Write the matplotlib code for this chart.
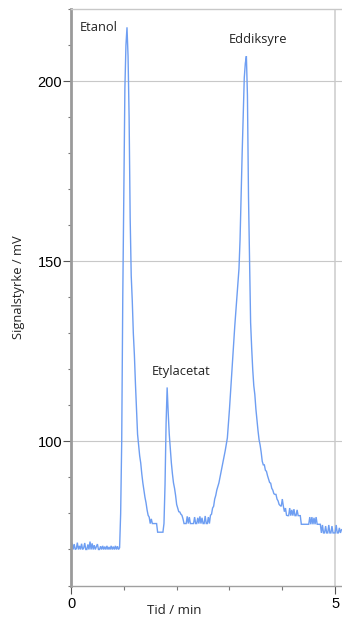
import numpy as np
import matplotlib
matplotlib.use("Agg")
import matplotlib.pyplot as plt
from matplotlib.ticker import FixedLocator

# Detector signal (mV), sampled every 0.02 min
SAMPLE_INTERVAL_MIN = 0.02

baseline_mv = [
    70.0, 71.8, 70.0, 71.5, 70.0, 70.2, 71.9, 70.0, 71.0, 70.0,
    71.6, 70.0, 70.4, 71.8, 70.0, 70.0, 71.4, 70.0, 72.2, 70.0,
    71.7, 70.0, 71.2, 70.0, 70.8, 71.5, 70.0, 70.0, 70.9, 70.0,
    71.0, 70.0, 70.8, 70.0, 71.0, 70.0, 70.7, 70.0, 71.0, 70.0,
    70.8, 70.0, 71.0, 70.0, 70.9, 70.0, 70.5,
]
etanol_mv = [
    80, 100, 140, 170, 198, 210, 215, 207, 190, 162,
    146, 139, 130, 124, 116, 109, 102, 99, 96, 94,
    91, 88.5, 86.5, 84.5, 83, 81, 79.5, 79, 77.2, 78.5,
    77.2, 77.2, 77.2, 77.2, 77.2, 74.8, 74.8, 74.8, 74.8, 74.8,
    74.8, 77.2,
]
etylacetat_mv = [
    88, 105, 115, 108, 102, 97.8, 94, 91, 88.5, 87,
    85, 82.5, 81.5, 80.5, 80.4, 79.8, 79.5, 78.5, 77.2, 77.2,
    77.2, 79.2, 77.2, 79.0, 77.2, 77.2, 77.2, 77.2, 79.0, 77.2,
    77.2, 78.8, 77.2, 79.2, 77.2, 78.8, 77.2, 77.2, 79.3, 77.2,
    77.2, 79.0, 77.2,
]
eddiksyre_mv = [
    79.5, 79.8, 81.5, 82, 84, 85, 86.5, 87.5, 88.5, 90,
    91.5, 93, 94.5, 96, 97.5, 99.3, 101, 105, 109, 113.6,
    118, 122.5, 127.5, 132, 136, 140, 144, 148, 156, 168,
    180, 190, 201, 205, 207, 196, 168, 150, 133, 126,
    120, 115.5, 113, 109, 106, 103, 100.5, 99, 97, 94.5,
    93.5, 93.5, 92, 91.7, 90.5, 89.5, 88.6, 88.4, 87, 86.5,
    85.5, 85.3, 85.3, 84, 83.5, 82.5, 82.2, 82, 84, 82,
    80.5, 81.5, 79.5, 79.4, 79.4, 81.5, 79.4, 81, 79.4, 81.2,
    79.4, 79.4, 81, 79.4, 79.4, 79.4, 77, 77, 77, 77,
    77, 77, 77, 77, 79, 77, 79, 77, 78.8, 77,
    79, 77, 77, 77, 77, 74.6, 76.8, 74.6, 74.6, 76.5,
    74.6, 74.6, 76.8, 74.6, 74.6, 76.5, 74.6, 74.6, 74.6, 76.8,
    74.6, 74.6, 76.0, 74.6, 75.5,
]

peak_labels = ["Etanol", "Etylacetat", "Eddiksyre"]
peak_label_pos = [(0.17, 215.0), (2.08, 119.4), (3.54, 211.7)]
peak_label_ha = ["left", "center", "center"]

y_major = [100, 150, 200]
y_minor = [60, 70, 80, 90, 110, 120, 130, 140, 160, 170, 180, 190, 210, 220]
x_major = [0, 5]
x_minor = [1, 2, 3, 4]

signal_mv = np.array(baseline_mv + etanol_mv + etylacetat_mv + eddiksyre_mv, dtype=float)
time_min = np.arange(len(signal_mv)) * SAMPLE_INTERVAL_MIN

W, H = 342, 619
fig = plt.figure(figsize=(W / 100, H / 100), dpi=100)
left_px, right_px, top_px, bottom_px = 71, 342, 9.3, 585.5
ax = fig.add_axes([left_px / W, 1 - bottom_px / H,
                   (right_px - left_px) / W, (bottom_px - top_px) / H])

ax.plot(time_min, signal_mv, color="#6e9ef2", lw=1.0, solid_joinstyle="miter")

ax.set_xlim(0, 5.13)
ax.set_ylim(60, 220)

ax.yaxis.set_major_locator(FixedLocator(y_major))
ax.yaxis.set_minor_locator(FixedLocator(y_minor))
ax.xaxis.set_major_locator(FixedLocator(x_major))
ax.xaxis.set_minor_locator(FixedLocator(x_minor))

tick_font = {"family": ["Liberation Sans", "DejaVu Sans"], "size": 10.5}
ax.set_yticklabels([str(v) for v in y_major], fontdict=tick_font)
ax.set_xticklabels([str(v) for v in x_major], fontdict=tick_font)

ax.tick_params(axis="y", which="major", length=5.8, width=0.8, color="#555555", pad=0.6)
ax.tick_params(axis="y", which="minor", length=2.3, width=0.8, color="#777777")
ax.tick_params(axis="x", which="major", length=5.5, width=0.8, color="#555555", pad=3)
ax.tick_params(axis="x", which="minor", length=3.0, width=0.8, color="#777777")

# grid lines at the labelled values
ax.grid(True, which="major", axis="y", color="#c8c8c8", lw=0.8)
ax.axvline(5, color="#cfcfcf", lw=1.2, zorder=0)

ax.spines["left"].set_color("#9a9a9a")
ax.spines["left"].set_linewidth(2.0)
ax.spines["bottom"].set_color("#a0a0a0")
ax.spines["bottom"].set_linewidth(1.0)
ax.spines["top"].set_color("#c8c8c8")
ax.spines["top"].set_linewidth(1.0)
ax.spines["right"].set_visible(False)

label_font = ["Open Sans", "DejaVu Sans"]
for name, (tx, ty), ha in zip(peak_labels, peak_label_pos, peak_label_ha):
    ax.text(tx, ty, name, ha=ha, va="center", fontsize=9.3,
            family=label_font, color="#222222")

fig.text(0.51, 0.013, "Tid / min", ha="center", va="center", fontsize=9.5,
         family=label_font, color="#222222")
fig.text(0.053, 0.536, "Signalstyrke / mV", ha="center", va="center",
         rotation=90, fontsize=9.3, family=label_font, color="#222222")

fig.savefig("out.png", dpi=100)
